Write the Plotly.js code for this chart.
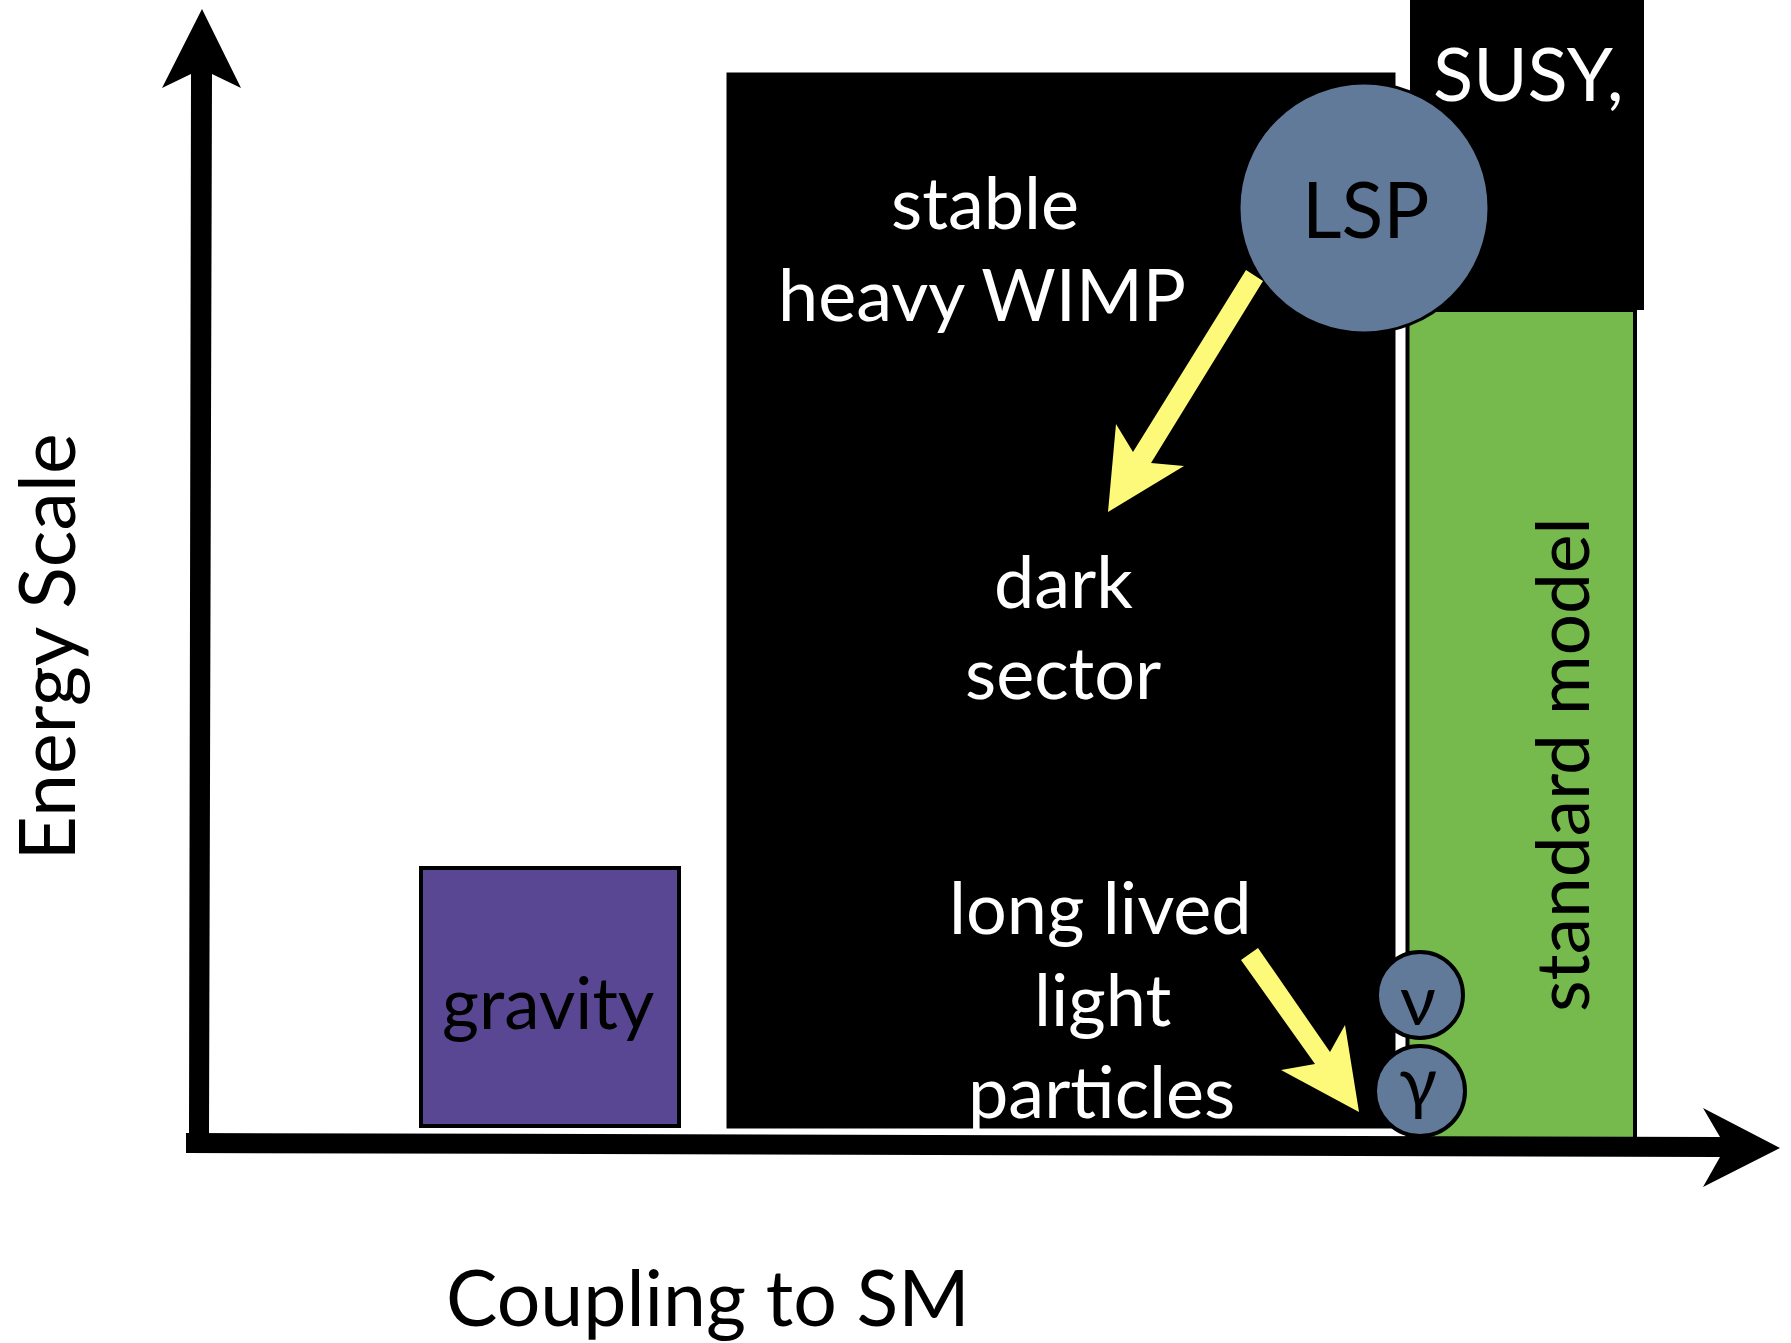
<!DOCTYPE html>
<html>
<head>
<meta charset="utf-8">
<script src="https://cdn.plot.ly/plotly-3.0.1.min.js"></script>
<style>html,body{margin:0;padding:0;background:#fff;}#chart{width:1791px;height:1343px;}</style>
</head>
<body>
<div id="chart"></div>
<script>
// ---- diagram data (in diagram units: x = coupling axis, y = energy axis, y grows downward) ----
const boxNames  = ["dark sector", "SUSY", "standard model", "gravity"];
const boxX0     = [724, 1410, 1407.5, 421];
const boxX1     = [1398, 1644, 1635, 679];
const boxY0     = [70, -10, 310, 868];
const boxY1     = [1131, 310, 1143, 1126];

const particleNames = ["LSP", "ν", "γ"];
const particleX     = [1364, 1420, 1420];
const particleY     = [208, 995, 1091];
const particleR     = [125, 43, 45];

// arrow outlines (decay arrows)
const arrowLSPx = [1246, 1263, 1151, 1184, 1108, 1116, 1133];
const arrowLSPy = [270, 281, 463, 466, 512, 424, 452];
const arrowLLPx = [1241, 1315, 1281, 1359, 1345, 1330, 1258];
const arrowLLPy = [960, 1064, 1070, 1112, 1025, 1052, 948];

// axes arrows
const yAxisX = [189, 191, 162, 202, 241, 212, 209];
const yAxisY = [1135, 74, 88, 9, 88, 74, 1135];
const xAxisX = [186, 1720, 1703, 1780, 1703, 1720, 186];
const xAxisY = [1133, 1137, 1108, 1148, 1187, 1157, 1153];

const labelTexts = ["stable", "heavy WIMP", "dark", "sector", "long lived", "light", "particles"];
const labelX     = [985, 982, 1063, 1063, 1100, 1102, 1101];
const labelBase  = [228, 320, 607, 698, 933, 1025, 1117];

const axisTitleX = "Coupling to SM";
const axisTitleY = "Energy Scale";

// ---- build ----
const FONT = "Lato, 'Open Sans', sans-serif";
function poly(xs, ys) {
  let p = "M" + xs[0] + "," + ys[0];
  for (let i = 1; i < xs.length; i++) p += " L" + xs[i] + "," + ys[i];
  return p + " Z";
}
function mid(base, size) { return base - 0.28 * size - 7; }

const boxFill = ["#000000", "#000000", "#76b94d", "#5a4794"];
const boxLine = [{color: "#ffffff", width: 5}, {width: 0}, {color: "#000000", width: 4}, {color: "#000000", width: 4}];

const shapes = [];
for (let i = 0; i < boxNames.length; i++) {
  shapes.push({type: "rect", xref: "x", yref: "y", x0: boxX0[i], x1: boxX1[i], y0: boxY0[i], y1: boxY1[i],
               fillcolor: boxFill[i], line: boxLine[i], layer: "above"});
}
shapes.push({type: "path", xref: "x", yref: "y", path: poly(yAxisX, yAxisY), fillcolor: "#000", line: {width: 0}});
shapes.push({type: "path", xref: "x", yref: "y", path: poly(xAxisX, xAxisY), fillcolor: "#000", line: {width: 0}});
const pLine = [3, 4, 4];
for (let i = 0; i < particleNames.length; i++) {
  shapes.push({type: "circle", xref: "x", yref: "y",
               x0: particleX[i] - particleR[i], x1: particleX[i] + particleR[i],
               y0: particleY[i] - particleR[i], y1: particleY[i] + particleR[i],
               fillcolor: "#627a99", line: {color: "#000", width: pLine[i]}});
}
shapes.push({type: "path", xref: "x", yref: "y", path: poly(arrowLSPx, arrowLSPy), fillcolor: "#fdfa7a", line: {width: 0}});
shapes.push({type: "path", xref: "x", yref: "y", path: poly(arrowLLPx, arrowLLPy), fillcolor: "#fdfa7a", line: {width: 0}});

const S = 72;
const annotations = [];
for (let i = 0; i < labelTexts.length; i++) {
  annotations.push({x: labelX[i], y: mid(labelBase[i], S), xref: "x", yref: "y", text: labelTexts[i],
                    showarrow: false, xanchor: "center", yanchor: "middle",
                    font: {family: FONT, size: S, color: "#ffffff"}});
}
annotations.push({x: 548, y: mid(1028, 71), xref: "x", yref: "y", text: boxNames[3], showarrow: false,
                  xanchor: "center", yanchor: "middle", font: {family: FONT, size: 71, color: "#000"}});
annotations.push({x: 1431, y: mid(100, 74), xref: "x", yref: "y", text: boxNames[1] + ",", showarrow: false,
                  xanchor: "left", yanchor: "middle", font: {family: FONT, size: 74, color: "#fff"}});
annotations.push({x: 1561, y: 765, xref: "x", yref: "y", text: boxNames[2], showarrow: false, textangle: -90,
                  xanchor: "center", yanchor: "middle", font: {family: FONT, size: 73, color: "#000"}});
annotations.push({x: 1366, y: mid(237, 77), xref: "x", yref: "y", text: particleNames[0], showarrow: false,
                  xanchor: "center", yanchor: "middle", font: {family: FONT, size: 77, color: "#000"}});
annotations.push({x: 1418, y: 998, xref: "x", yref: "y", text: particleNames[1], showarrow: false,
                  xanchor: "center", yanchor: "middle", font: {family: FONT, size: 70, color: "#000"}});
annotations.push({x: 1418, y: 1080, xref: "x", yref: "y", text: particleNames[2], showarrow: false,
                  xanchor: "center", yanchor: "middle", font: {family: FONT, size: 70, color: "#000"}});
annotations.push({x: 708, y: mid(1325, 77), xref: "x", yref: "y", text: axisTitleX, showarrow: false,
                  xanchor: "center", yanchor: "middle", font: {family: FONT, size: 77, color: "#000"}});
annotations.push({x: mid(74, 77), y: 647, xref: "x", yref: "y", text: axisTitleY, showarrow: false, textangle: -90,
                  xanchor: "center", yanchor: "middle", font: {family: FONT, size: 77, color: "#000"}});

const layout = {
  width: 1791, height: 1343,
  margin: {l: 0, r: 0, t: 0, b: 0, pad: 0},
  paper_bgcolor: "#ffffff", plot_bgcolor: "#ffffff",
  showlegend: false,
  xaxis: {range: [0, 1791], visible: false, fixedrange: true},
  yaxis: {range: [1343, 0], visible: false, fixedrange: true},
  shapes: shapes,
  annotations: annotations
};
Plotly.newPlot("chart", [{x: [], y: [], type: "scatter", mode: "markers", hoverinfo: "skip"}], layout,
               {staticPlot: true, displayModeBar: false});
</script>
</body>
</html>
